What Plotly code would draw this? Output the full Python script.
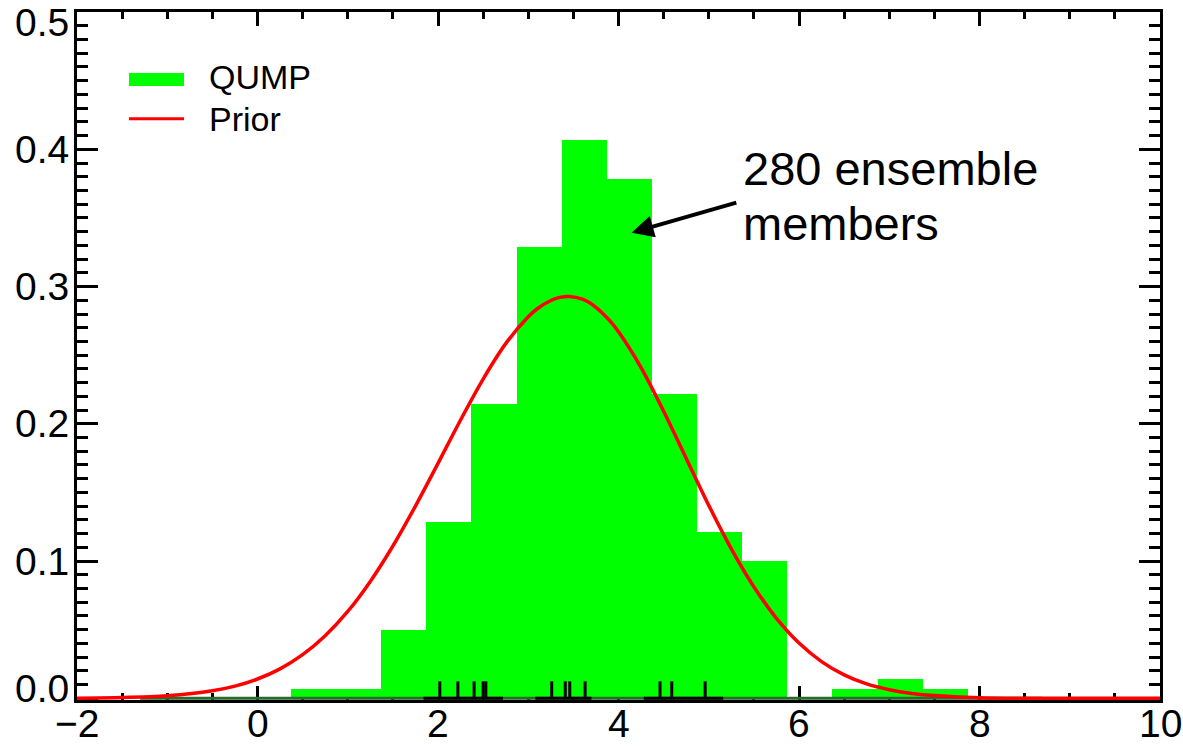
import plotly.graph_objects as go

# ---------------- data ----------------
bin_width = 0.5
bin_centers = [0.62, 1.12, 1.62, 2.12, 2.62, 3.12, 3.62, 4.12, 4.62, 5.12, 5.62, 6.12, 6.62, 7.12, 7.62]
qump_density = [0.0071, 0.0071, 0.050, 0.1286, 0.2143, 0.3286, 0.4071, 0.3786,
                0.2214, 0.1214, 0.100, 0.0, 0.0071, 0.0143, 0.0071]

prior_x = [-2.0, -1.5, -1.0, -0.5, -0.25, 0.0, 0.25, 0.5, 0.75, 1.0, 1.25, 1.5, 1.75,
           2.0, 2.25, 2.5, 2.75, 3.0, 3.1, 3.25, 3.35, 3.45, 3.6, 3.75, 3.9, 4.0, 4.25,
           4.5, 4.75, 5.0, 5.25, 5.5, 5.75, 6.0, 6.25, 6.5, 6.75, 7.0, 7.25, 7.5, 8.0,
           8.5, 9.0, 10.0]
prior_y = [0.00015, 0.0006, 0.0019, 0.0055, 0.0089, 0.0141, 0.0215, 0.0318, 0.0456,
           0.0633, 0.0852, 0.1110, 0.1401, 0.1712, 0.2028, 0.2326, 0.2584, 0.2780,
           0.2838, 0.2898, 0.2921, 0.2928, 0.2908, 0.2849, 0.2753, 0.2670, 0.2409,
           0.2091, 0.1748, 0.1406, 0.1089, 0.0812, 0.0583, 0.0403, 0.0268, 0.0171,
           0.0105, 0.0063, 0.0036, 0.0020, 0.0005, 0.0001, 0.0, 0.0]

rug_x = [2.02, 2.22, 2.40, 2.50, 2.53, 3.26, 3.41, 3.46, 3.63, 4.46, 4.59, 4.96]
rug_height = 0.0124
rug_segments = [(1.84, 2.72), (3.08, 3.70), (4.28, 5.16)]
base_line = (-1.3, 8.7)

y_tick_vals = [0.0, 0.1, 0.2, 0.3, 0.4, 0.5]
y_tick_text = ["0.0", "0.1", "0.2", "0.3", "0.4", "0.5"]
x_tick_vals = [-2, 0, 2, 4, 6, 8, 10]
x_tick_text = ["\u22122", "0", "2", "4", "6", "8", "10"]

legend_labels = ["QUMP", "Prior"]
annot_lines = ["280 ensemble", "members"]
arrow_head = (4.145, 0.3392)
arrow_tail = (5.322, 0.3615)
annot_x = 5.36
annot_y = [0.386, 0.346]

FONT = "Liberation Sans, Arial, Helvetica, sans-serif"
GREEN = "#00ff00"
RED = "#ff0000"
TICK_SIZE = 39

fig = go.Figure()

# dark green baseline
fig.add_trace(go.Scatter(x=list(base_line), y=[0, 0], mode="lines",
                         line=dict(color="#2a6a2a", width=3), hoverinfo="skip", showlegend=False))

# histogram bars
fig.add_trace(go.Bar(x=bin_centers, y=qump_density, width=bin_width,
                     marker=dict(color=GREEN, line=dict(width=0)), showlegend=False))

# rug marks
rx, ry = [], []
for a, b in rug_segments:
    rx += [a, b, None]
    ry += [0, 0, None]
for v in rug_x:
    rx += [v, v, None]
    ry += [0, rug_height, None]
fig.add_trace(go.Scatter(x=rx, y=ry, mode="lines", line=dict(color="black", width=3),
                         hoverinfo="skip", showlegend=False))

# prior curve
fig.add_trace(go.Scatter(x=prior_x, y=prior_y, mode="lines",
                         line=dict(color=RED, width=3.5, shape="spline", smoothing=0.8),
                         showlegend=False))

axis_common = dict(showline=True, linecolor="black", linewidth=3, mirror="ticks",
                   ticks="inside", tickcolor="black", tickwidth=3, showgrid=False,
                   zeroline=False, layer="below traces", automargin=False,
                   showticklabels=False)

fig.update_xaxes(range=[-2, 10], tickvals=x_tick_vals, ticklen=14,
                 minor=dict(dtick=0.5, tick0=0, ticklen=7, tickwidth=3, ticks="inside",
                            tickcolor="black", showgrid=False),
                 **axis_common)
fig.update_yaxes(range=[-0.0012, 0.5], tickvals=y_tick_vals, ticklen=21,
                 minor=dict(dtick=0.01, tick0=0, ticklen=11, tickwidth=3, ticks="inside",
                            tickcolor="black", showgrid=False),
                 **axis_common)

annotations = []
# y tick labels
for v, t in zip(y_tick_vals, y_tick_text):
    shift = 10 if v == y_tick_vals[0] else (-10 if v == y_tick_vals[-1] else 0)
    annotations.append(dict(x=0, xref="paper", y=v, yref="y", text=t, showarrow=False,
                            xanchor="right", yanchor="middle", xshift=-6, yshift=shift,
                            font=dict(family=FONT, size=TICK_SIZE, color="black")))
# x tick labels
for v, t in zip(x_tick_vals, x_tick_text):
    annotations.append(dict(x=v, xref="x", y=0, yref="paper", text=t, showarrow=False,
                            xanchor="center", yanchor="middle", yshift=-23,
                            font=dict(family=FONT, size=TICK_SIZE, color="black")))

# arrow
annotations.append(dict(x=arrow_head[0], y=arrow_head[1], xref="x", yref="y",
                        ax=arrow_tail[0], ay=arrow_tail[1], axref="x", ayref="y",
                        text="", showarrow=True, arrowhead=2, arrowsize=1.1,
                        arrowwidth=4, arrowcolor="black", standoff=0, startstandoff=0))
# annotation text
for line, yv in zip(annot_lines, annot_y):
    annotations.append(dict(x=annot_x, y=yv, xref="x", yref="y", text=line,
                            showarrow=False, xanchor="left", yanchor="middle",
                            font=dict(family=FONT, size=47, color="black")))

# manual legend
legend_y = [0.902, 0.845]
legend_text_y = [0.905, 0.845]
legend_colors = [GREEN, RED]
legend_widths = [13, 3]
shapes = []
for lab, yv, ty, c, w in zip(legend_labels, legend_y, legend_text_y, legend_colors, legend_widths):
    shapes.append(dict(type="line", xref="paper", yref="paper", x0=0.048, x1=0.0988,
                       y0=yv, y1=yv, line=dict(color=c, width=w)))
    annotations.append(dict(x=0.12, y=ty, xref="paper", yref="paper", text=lab,
                            showarrow=False, xanchor="left", yanchor="middle",
                            font=dict(family=FONT, size=34, color="black")))

fig.update_layout(width=1183, height=746, margin=dict(l=77, r=23, t=12, b=46),
                  plot_bgcolor="white", paper_bgcolor="white", bargap=0,
                  annotations=annotations, shapes=shapes, showlegend=False,
                  font=dict(family=FONT, color="black"))

fig.write_html("out.html", config={"displayModeBar": False},
               post_script="document.body.style.margin='0';document.body.style.padding='0';")
